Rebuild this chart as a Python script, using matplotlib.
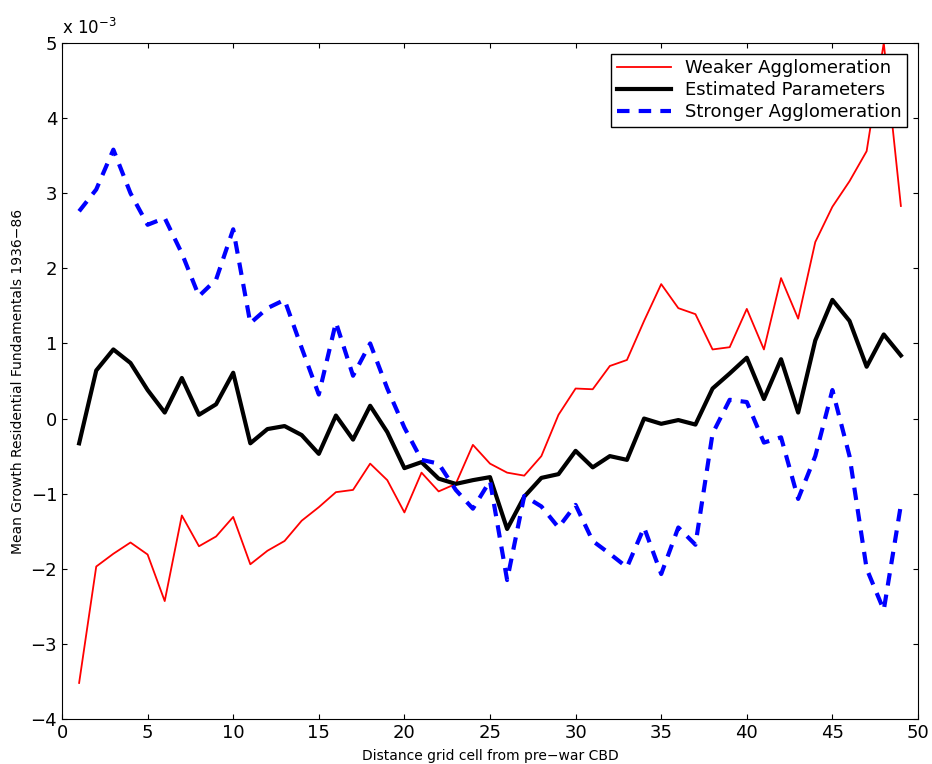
import numpy as np
import matplotlib
matplotlib.use('Agg')
import matplotlib.pyplot as plt

dist = np.arange(1, 50)

weaker = [-3.52, -1.97, -1.80, -1.65, -1.81, -2.43, -1.29, -1.70, -1.57, -1.31,
          -1.94, -1.76, -1.63, -1.36, -1.18, -0.98, -0.95, -0.60, -0.82, -1.25,
          -0.72, -0.97, -0.87, -0.35, -0.60, -0.72, -0.76, -0.50, 0.05, 0.40,
          0.39, 0.70, 0.78, 1.30, 1.79, 1.47, 1.39, 0.92, 0.95, 1.46,
          0.92, 1.87, 1.33, 2.35, 2.82, 3.16, 3.56, 5.00, 2.83]
estimated = [-0.33, 0.64, 0.92, 0.74, 0.38, 0.08, 0.54, 0.05, 0.19, 0.61,
             -0.33, -0.14, -0.10, -0.22, -0.47, 0.04, -0.28, 0.17, -0.18, -0.66,
             -0.58, -0.80, -0.87, -0.82, -0.78, -1.47, -1.04, -0.79, -0.74, -0.43,
             -0.65, -0.50, -0.55, 0.00, -0.07, -0.02, -0.08, 0.40, 0.60, 0.81,
             0.26, 0.79, 0.08, 1.04, 1.58, 1.30, 0.69, 1.12, 0.84]
stronger = [2.76, 3.05, 3.58, 3.00, 2.58, 2.67, 2.20, 1.63, 1.85, 2.52,
            1.27, 1.47, 1.58, 0.94, 0.32, 1.28, 0.57, 1.00, 0.40, -0.12,
            -0.55, -0.60, -0.95, -1.20, -0.83, -2.15, -1.03, -1.17, -1.45, -1.15,
            -1.63, -1.80, -1.98, -1.45, -2.07, -1.45, -1.68, -0.20, 0.25, 0.22,
            -0.32, -0.25, -1.07, -0.50, 0.38, -0.50, -2.00, -2.55, -1.15]

fig = plt.figure(figsize=(9.32, 7.64), dpi=100)
ax = fig.add_axes([62/932, 1-719/764, (918-62)/932, (719-43)/764])

ax.plot(dist, weaker, color='red', lw=1.3, label='Weaker Agglomeration')
ax.plot(dist, estimated, color='black', lw=3, label='Estimated Parameters')
ax.plot(dist, stronger, color='blue', lw=3, ls=(0, (3, 2.2)), label='Stronger Agglomeration')

ax.set_xlim(0, 50)
ax.set_ylim(-4, 5)
ax.set_xticks(range(0, 51, 5))
ax.set_yticks(range(-4, 6))
ax.tick_params(direction='in', top=True, right=True, labelsize=13)
ax.text(0, 1.008, r'x 10$^{-3}$', transform=ax.transAxes, fontsize=12, va='bottom')
ax.set_ylabel('Mean Growth Residential Fundamentals 1936\u221286', fontsize=10)
ax.set_xlabel('Distance grid cell from pre\u2212war CBD', fontsize=10, labelpad=5)

leg = ax.legend(loc='upper right', fontsize=13, fancybox=False, edgecolor='black',
                borderaxespad=0.6, handlelength=3, labelspacing=0.22, borderpad=0.3,
                framealpha=1)
leg.get_frame().set_linewidth(1)

plt.savefig('out.png')
